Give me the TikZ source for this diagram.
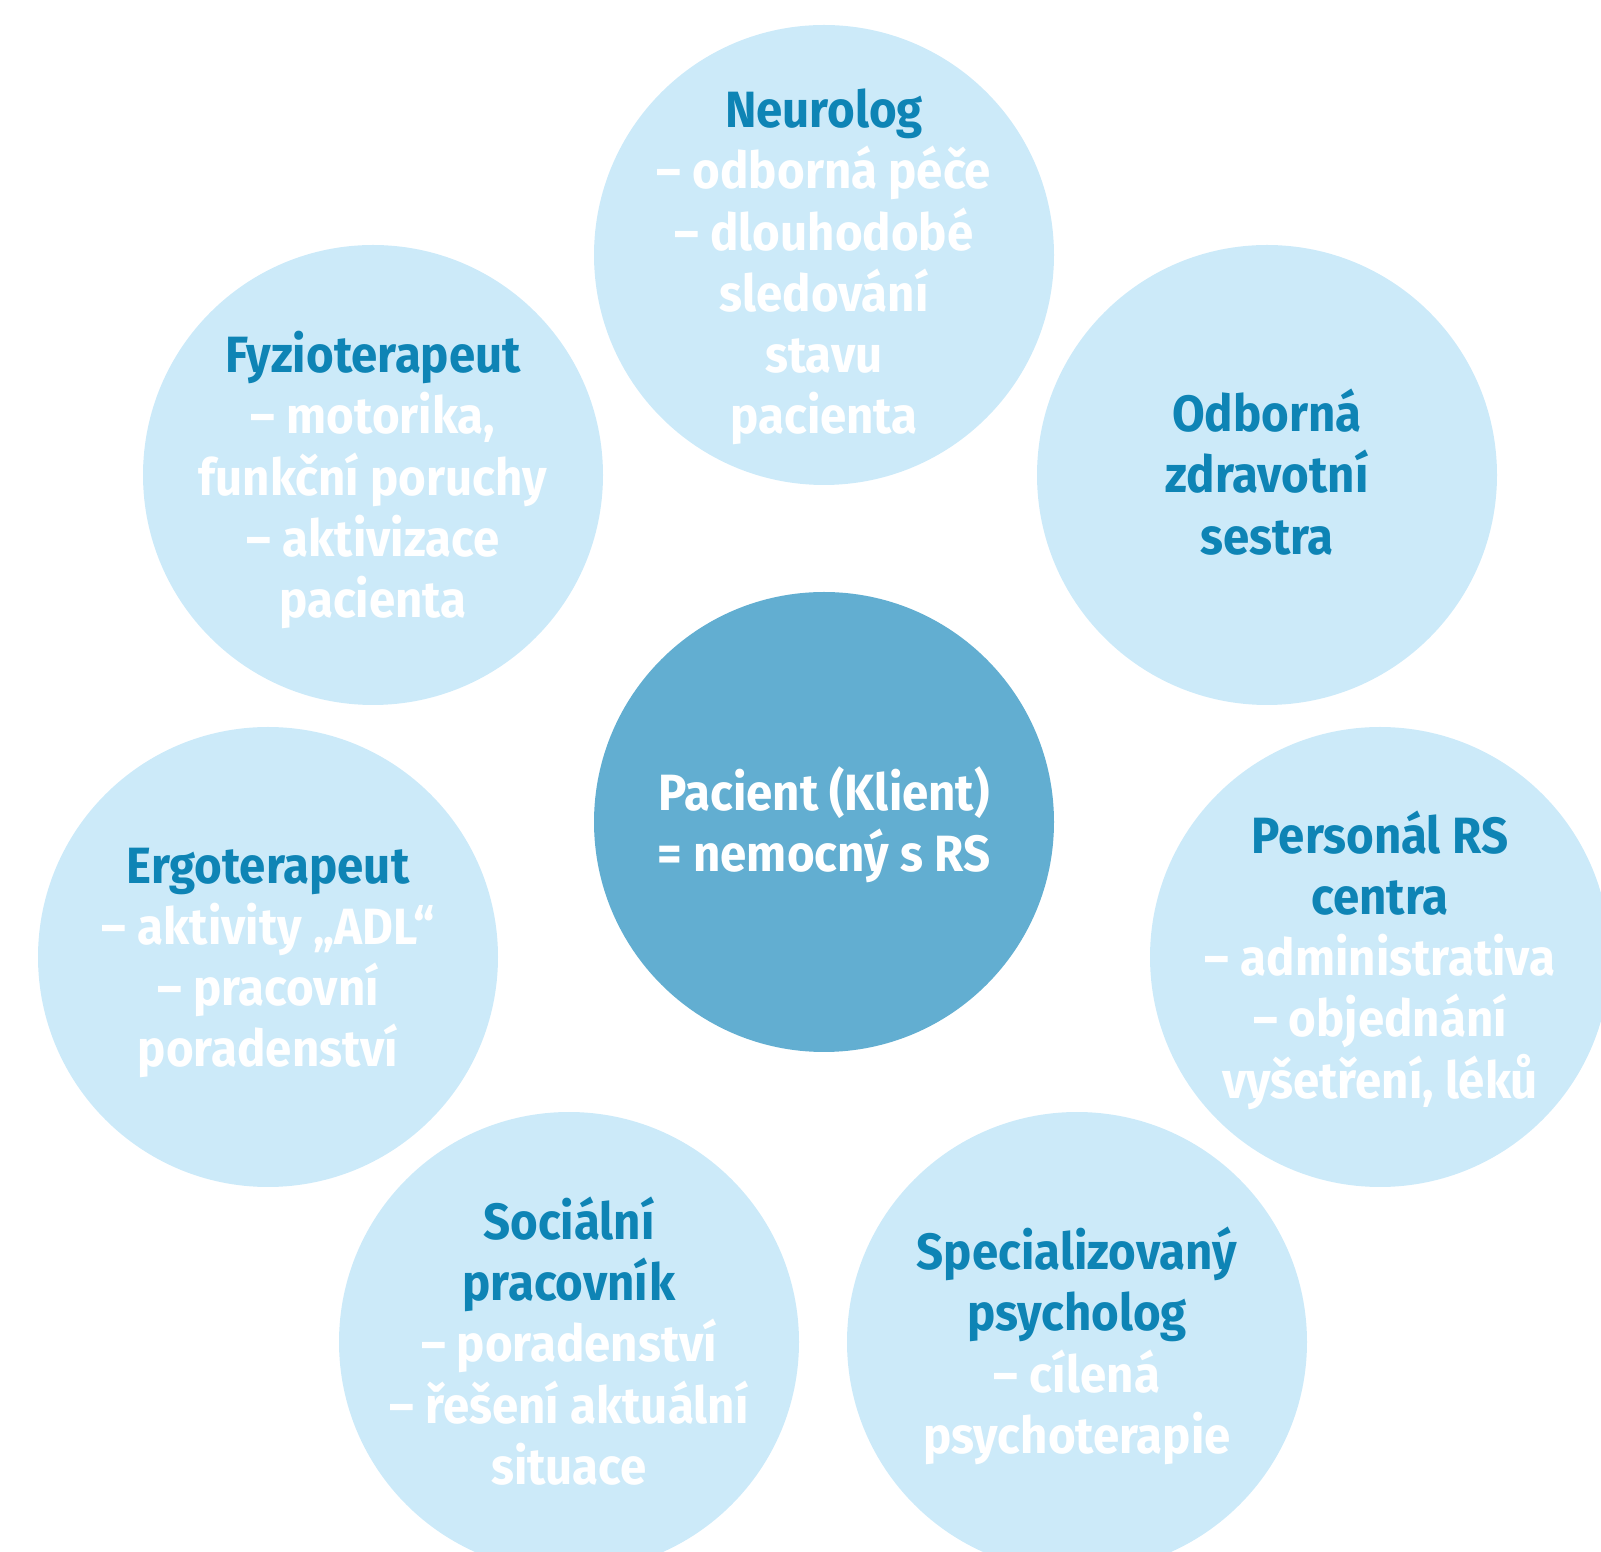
\documentclass[tikz,border=0pt]{standalone}
\usepackage{fontspec}
\setmainfont{Fira Sans}[FakeStretch=0.93]
\definecolor{lightbub}{HTML}{CCEAF9}
\definecolor{midbub}{HTML}{62AED1}
\definecolor{titleblue}{HTML}{0E84B5}
\newcommand{\ttlc}[1]{\textcolor{titleblue}{#1}}
\begin{document}
\begin{tikzpicture}[x=1pt,y=1pt,
  bub/.style={circle, fill=lightbub, minimum size=460pt, inner sep=0pt},
  lbl/.style={align=center, text=white, inner sep=0pt,
    font=\fontsize{51}{61.3}\selectfont\bfseries}]
\useasboundingbox (0,0) rectangle (1601,1551);
\clip (0,0) rectangle (1601,1551);
% circles
\node[bub] (neuro) at (824,1296) {};
\node[bub, fill=midbub] (pac) at (824,729) {};
\node[bub] (fyzio) at (373,1076) {};
\node[bub] (sestra) at (1267,1076) {};
\node[bub] (ergo) at (268,594) {};
\node[bub] (pers) at (1380,594) {};
\node[bub] (soc) at (569,209) {};
\node[bub] (psych) at (1077,209) {};
% texts
\node[lbl, yshift=-12pt] (neurot) at (neuro) {\ttlc{Neurolog}\\– odborná péče\\– dlouhodobé\\sledování\\stavu\\pacienta};
\node[lbl, yshift=-3pt] (pact) at (pac) {Pacient (Klient)\\= nemocný s RS};
\node[lbl, yshift=-5pt] (fyziot) at (fyzio) {\ttlc{Fyzioterapeut}\\– motorika,\\funkční poruchy\\– aktivizace\\pacienta};
\node[lbl, yshift=3pt] (sestrat) at (sestra) {\ttlc{Odborná}\\\ttlc{zdravotní}\\\ttlc{sestra}};
\node[lbl, yshift=-6pt] (ergot) at (ergo) {\ttlc{Ergoterapeut}\\– aktivity „ADL“\\– pracovní\\poradenství};
\node[lbl, yshift=-3pt] (perst) at (pers) {\ttlc{Personál RS}\\\ttlc{centra}\\– administrativa\\– objednání\\vyšetření, léků};
\node[lbl, yshift=1pt] (soct) at (soc) {\ttlc{Sociální}\\\ttlc{pracovník}\\– poradenství\\– řešení aktuální\\situace};
\node[lbl, yshift=-4pt] (psycht) at (psych) {\ttlc{Specializovaný}\\\ttlc{psycholog}\\– cílená\\psychoterapie};
\end{tikzpicture}
\end{document}
